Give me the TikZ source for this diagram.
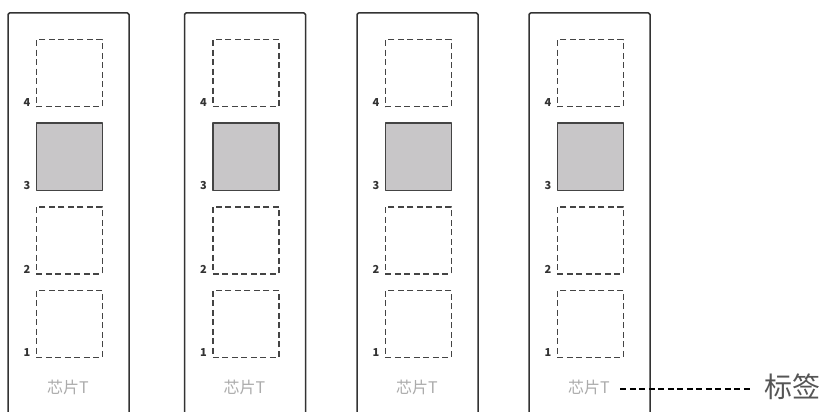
\documentclass[tikz,border=0pt]{standalone}
\usepackage{fontspec}
\usepackage{xcolor}
\usepackage{tikz}
\usetikzlibrary{positioning}
\newfontfamily\cjk{Noto Sans CJK SC}
\definecolor{tgInk}{HTML}{333333}
\definecolor{tgDash}{HTML}{444444}
\definecolor{tgFill}{HTML}{C8C6C8}
\definecolor{tgMuted}{HTML}{ABABAB}
\definecolor{tgText}{HTML}{555555}
\tikzset{
  tg diagram/.style={font=\cjk, line cap=butt, line join=round},
  tg strip/.style={draw=tgInk, line width=1.5pt, rounded corners=1.5pt},
  tg slot/.style={draw=tgDash, line width=1.5pt, dash pattern=on 6pt off 3.5pt,
    minimum width=66pt, minimum height=67pt, inner sep=0pt, anchor=north west},
  tg used slot/.style={tg slot, solid, fill=tgFill},
  tg number/.style={font=\cjk\bfseries\fontsize{11}{12}\selectfont, text=tgInk,
    inner sep=0pt, anchor=south east},
  tg chip/.style={font=\cjk\fontsize{16}{18}\selectfont, text=tgMuted},
  tg tag/.style={font=\cjk\fontsize{28}{30}\selectfont, text=tgText, anchor=west, inner sep=0pt},
  tg tag line/.style={draw=black, line width=1.3pt, dash pattern=on 6pt off 3.5pt}
}
\begin{document}
\begin{tikzpicture}[tg diagram,x=1pt,y=-1pt]
\useasboundingbox (0,0) rectangle (823,412);
\foreach \c/\shift in {1/8,2/184.5,3/357,4/529}{
 \begin{scope}[xshift=\shift pt]
 \draw[tg strip] (0,413) |- (121,13) -- (121,413);
 \foreach \k/\top in {4/39,3/122.5,2/206,1/289.5}{
  \ifnum\k=3
   \node[tg used slot] (slot\c-\k) at (27.5,\top) {};
  \else
   \node[tg slot] (slot\c-\k) at (27.5,\top) {};
  \fi
  \node[tg number] (num\c-\k) at ([xshift=-5pt,yshift=1pt]slot\c-\k.south west) {\k};
 }
 \node[tg chip] (chip\c) at (60,387) {芯片T};
 \end{scope}
}
\node[tg tag] (tag) at (764,387) {标签};
\draw[tg tag line] ([xshift=7pt,yshift=-2pt]chip4.east) -- ([xshift=-11pt,yshift=-2pt]tag.west);
\end{tikzpicture}
\end{document}
